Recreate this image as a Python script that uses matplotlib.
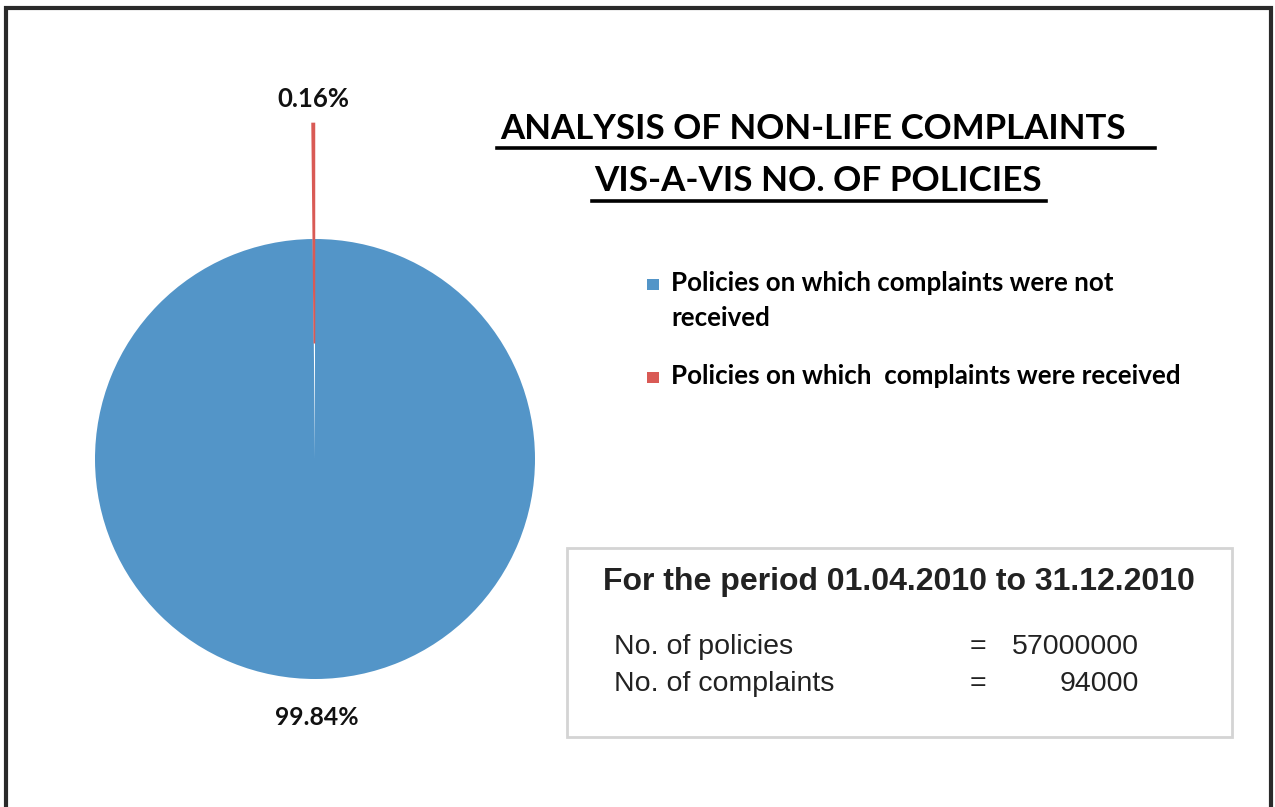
import math
import matplotlib
matplotlib.use("Agg")
import matplotlib.pyplot as plt
from matplotlib.lines import Line2D
from matplotlib.patches import Rectangle
from matplotlib import font_manager

# Data
total_policies = 57000000
total_complaints = 94000
categories = ["Policies on which complaints were not\nreceived",
              "Policies on which  complaints were received"]
values = [total_policies - total_complaints, total_complaints]
colors = ["#5395C8", "#D95A55"]

title_lines = ["ANALYSIS OF NON-LIFE COMPLAINTS", "VIS-A-VIS NO. OF POLICIES"]
period_text = "For the period 01.04.2010 to 31.12.2010"
stat_labels = ["No. of policies", "No. of complaints"]
stat_values = [total_policies, total_complaints]

W, H = 1275, 807
fig = plt.figure(figsize=(W / 100, H / 100), dpi=100)
fig.patch.set_facecolor("white")
ax = fig.add_axes([0, 0, 1, 1])
renderer = fig.canvas.get_renderer()


def first_font(names):
    for n in names:
        try:
            font_manager.findfont(font_manager.FontProperties(family=n),
                                  fallback_to_default=False)
            return n
        except Exception:
            continue
    return "DejaVu Sans"


head_font = [first_font(["Liberation Sans Narrow", "Lato", "Open Sans"]), "DejaVu Sans"]
label_font = [first_font(["Lato", "Open Sans"]), "DejaVu Sans"]
arial = ["Liberation Sans", "DejaVu Sans"]


def fit_text(t, width_px):
    """Scale a text's font size so its rendered width is width_px."""
    w = t.get_window_extent(renderer).width
    t.set_fontsize(t.get_fontsize() * width_px / w)
    return t


# Pie (pixel coordinates, y measured upward)
cx, cy, r = 315, H - 459, 220
total = sum(values)
pct = [v / total * 100 for v in values]
wedges, texts = ax.pie(values, colors=colors, startangle=90, counterclock=False,
                       center=(cx, cy), radius=r, explode=[0, 0.525 * r],
                       labels=[f"{p:.2f}%" for p in pct], labeldistance=1.15,
                       wedgeprops=dict(linewidth=0, antialiased=True),
                       textprops=dict(fontsize=16, fontweight="bold",
                                      family=label_font, color="#111111"))
# thin slice gets a matching outline so it reads as a visible sliver
wedges[1].set_edgecolor(colors[1])
wedges[1].set_linewidth(1.2)

ax.set_xlim(0, W)
ax.set_ylim(0, H)
ax.set_aspect("equal")
ax.axis("off")

# percentage labels placed along each slice's mid-angle
for w, t, d in zip(wedges, texts, [1.175, 1.11]):
    mid = math.radians((w.theta1 + w.theta2) / 2)
    wx, wy = w.center
    t.set_position((wx + d * r * math.cos(mid), wy + d * r * math.sin(mid)))
    t.set_ha("center")
    t.set_va("center")
fit_text(texts[0], 84)
fit_text(texts[1], 72)

# Title with underline
t1 = ax.text(500, H - 129, title_lines[0], fontsize=30, fontweight="bold", family=head_font,
             ha="left", va="center", color="black")
t2 = ax.text(594, H - 181, title_lines[1], fontsize=30, fontweight="bold", family=head_font,
             ha="left", va="center", color="black")
fit_text(t1, 627)
fit_text(t2, 446)
ax.add_line(Line2D([497, 1155], [H - 147.5, H - 147.5], color="black", lw=2.6))
ax.add_line(Line2D([592, 1046], [H - 200.5, H - 200.5], color="black", lw=2.6))

# Legend
for yy, c in zip([H - 284, H - 377], colors):
    ax.add_patch(Rectangle((647, yy - 6), 11.5, 11.5, facecolor=c, edgecolor="none"))
lines0 = categories[0].split("\n")
l1 = ax.text(671, H - 283, lines0[0], fontsize=17, fontweight="bold",
             family=head_font, ha="left", va="center", color="black")
l2 = ax.text(671, H - 318, lines0[1], fontsize=17, fontweight="bold",
             family=head_font, ha="left", va="center", color="black")
l3 = ax.text(671, H - 376, categories[1], fontsize=17, fontweight="bold",
             family=head_font, ha="left", va="center", color="black")
fit_text(l1, 442)
l2.set_fontsize(l1.get_fontsize())
fit_text(l3, 509)

# Summary box
ax.add_patch(Rectangle((567, H - 737), 665, 189, facecolor="white",
                       edgecolor="#D4D4D4", lw=2))
pt = ax.text(603, H - 582, period_text, fontsize=22, fontweight="bold", family=arial,
             ha="left", va="center", color="#222222")
fit_text(pt, 592)
for i, (lab, val) in enumerate(zip(stat_labels, stat_values)):
    yy = H - 647 - 37 * i
    ax.text(614, yy, lab, fontsize=20.5, family=arial, ha="left", va="center", color="#222222")
    ax.text(978, yy, "=", fontsize=20.5, family=arial, ha="center", va="center", color="#222222")
    ax.text(1139, yy, f"{val}", fontsize=20.5, family=arial, ha="right", va="center",
            color="#222222")

# Outer frame (left, top, right)
ax.add_line(Line2D([6, 6, 1271, 1271], [0, H - 8, H - 8, 0], color="#2a2a2a", lw=3,
                   solid_joinstyle="miter"))

fig.savefig("out.png", dpi=100, facecolor="white")
